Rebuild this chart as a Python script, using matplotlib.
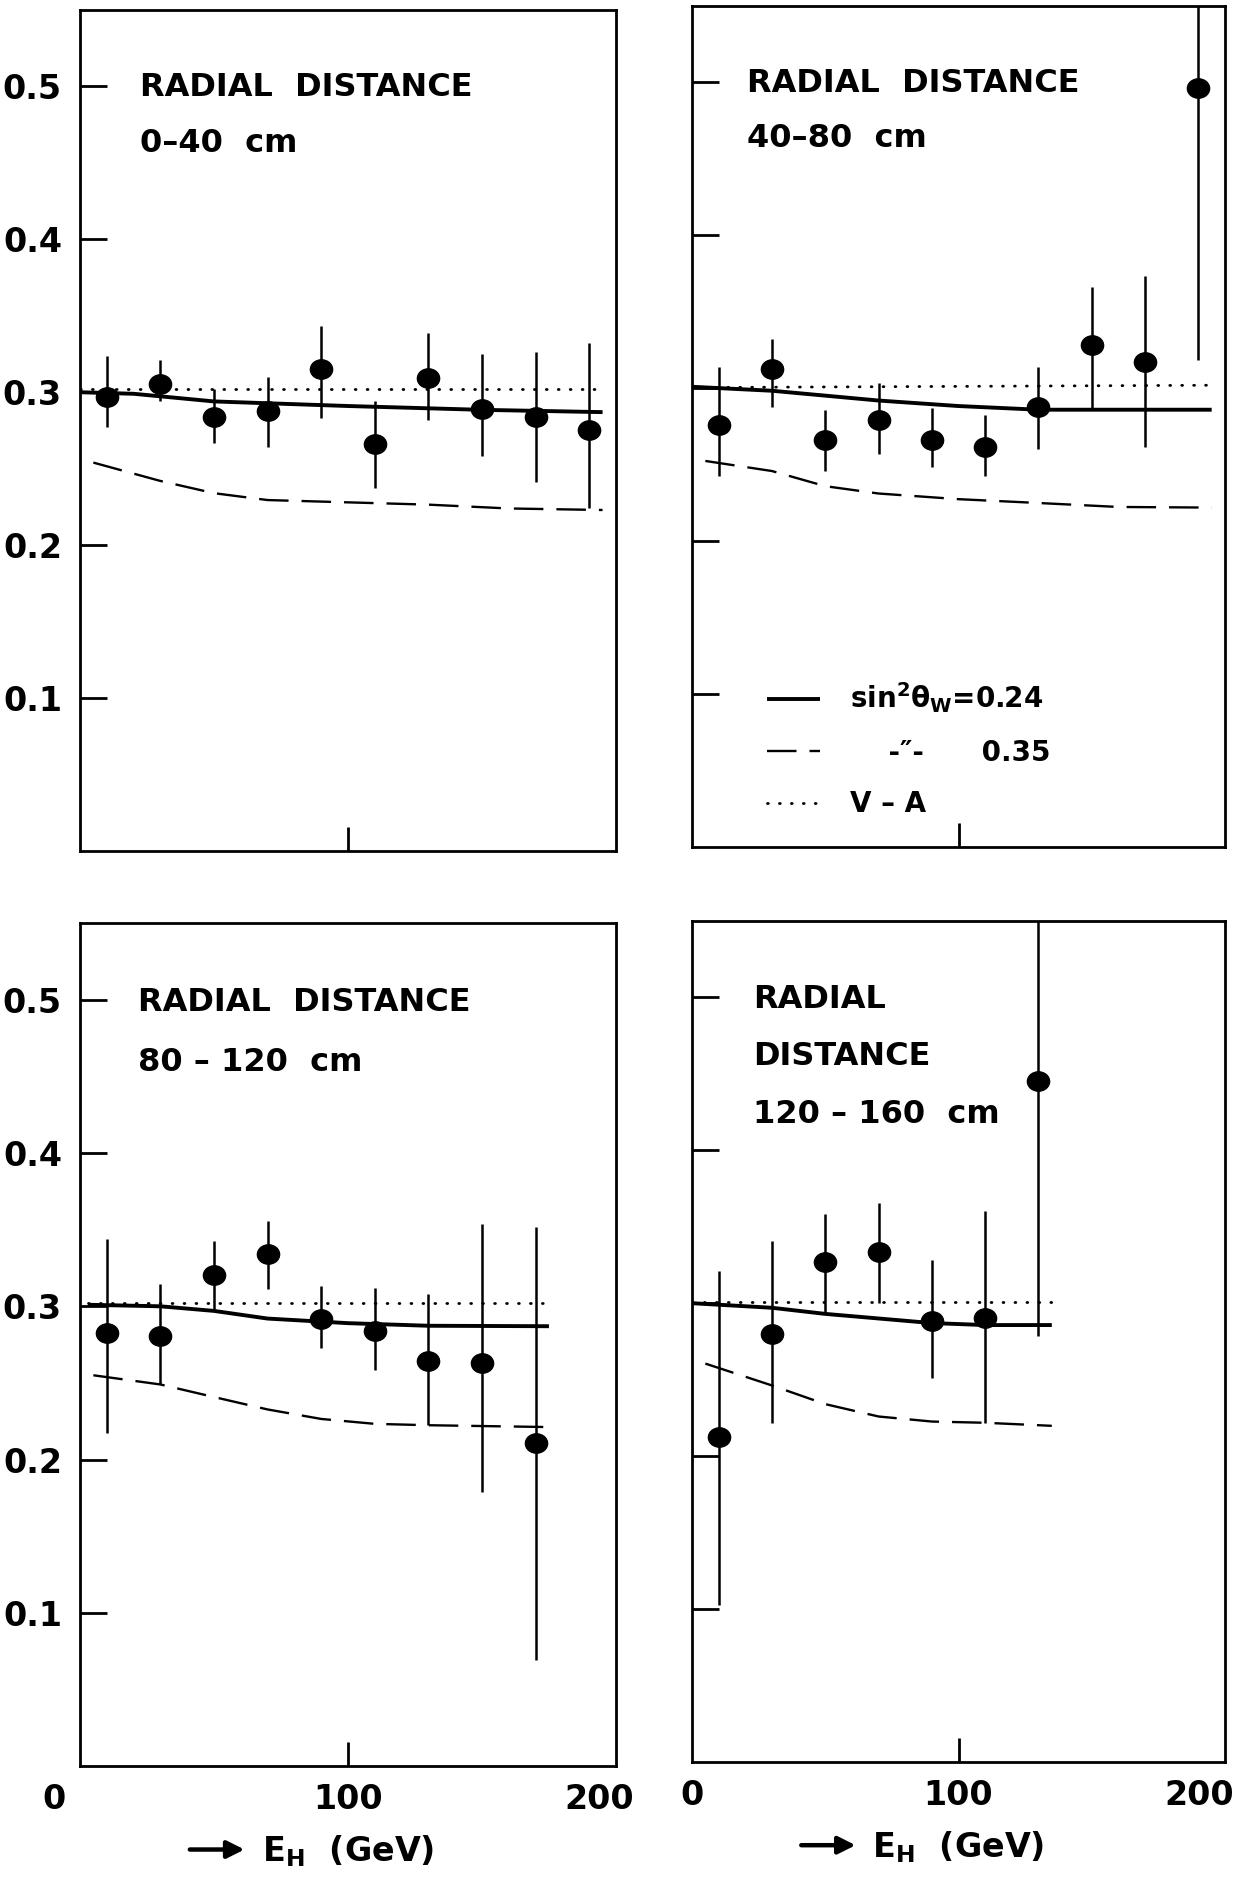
import numpy as np
import matplotlib
matplotlib.use("Agg")
import matplotlib.pyplot as plt
from matplotlib.lines import Line2D
from matplotlib.path import Path
from matplotlib.transforms import offset_copy

matplotlib.rc('font', family='DejaVu Sans', size=24, weight='bold')
matplotlib.rc('mathtext', fontset='dejavusans', default='bf')
matplotlib.rc('axes', linewidth=2.0, labelweight='bold')

# hadron energy bins (GeV)
e_bins = [10, 30, 50, 70, 90, 110, 130, 150, 170, 190]

# ---- radial distance 0-40 cm
r1_y = [0.297, 0.3055, 0.284, 0.288, 0.315, 0.266, 0.309, 0.289, 0.284, 0.275]
r1_lo = [0.277, 0.2945, 0.267, 0.264, 0.283, 0.2375, 0.282, 0.258, 0.241, 0.2245]
r1_hi = [0.324, 0.321, 0.302, 0.310, 0.343, 0.294, 0.339, 0.325, 0.326, 0.332]
r1_sol_x = [0, 20, 50, 100, 150, 195]
r1_sol_y = [0.300, 0.299, 0.294, 0.291, 0.2885, 0.287]
r1_dot_x = [0, 195]
r1_dot_y = [0.302, 0.302]
r1_das_x = [5, 30, 50, 70, 100, 130, 160, 195]
r1_das_y = [0.254, 0.242, 0.234, 0.2295, 0.228, 0.2265, 0.224, 0.223]

# ---- radial distance 40-80 cm
r2_y = [0.2763, 0.3123, 0.266, 0.279, 0.2664, 0.2616, 0.288, 0.3284, 0.3174, 0.4965]
r2_lo = [0.2426, 0.288, 0.2459, 0.2569, 0.2488, 0.2426, 0.2606, 0.2873, 0.2616, 0.3185]
r2_hi = [0.3138, 0.332, 0.286, 0.3035, 0.2873, 0.2826, 0.3138, 0.3662, 0.3736, 0.60]
r2_sol_x = [0, 30, 70, 100, 130, 195]
r2_sol_y = [0.301, 0.2984, 0.292, 0.2884, 0.286, 0.286]
r2_dot_x = [0, 195]
r2_dot_y = [0.3005, 0.302]
r2_das_x = [5, 30, 50, 70, 100, 130, 160, 195]
r2_das_y = [0.2525, 0.2459, 0.236, 0.2312, 0.2275, 0.225, 0.2224, 0.222]

# ---- radial distance 80-120 cm
r3_y = [0.2824, 0.2804, 0.3204, 0.3339, 0.2914, 0.2837, 0.2645, 0.2633, 0.211]
r3_lo = [0.2171, 0.249, 0.2967, 0.3114, 0.2727, 0.2584, 0.2224, 0.1788, 0.0694]
r3_hi = [0.3437, 0.3143, 0.3429, 0.3559, 0.313, 0.3122, 0.3078, 0.3535, 0.3518]
r3_sol_x = [3, 30, 50, 70, 100, 130, 175]
r3_sol_y = [0.301, 0.300, 0.297, 0.292, 0.289, 0.2873, 0.287]
r3_dot_x = [3, 175]
r3_dot_y = [0.302, 0.302]
r3_das_x = [5, 30, 50, 70, 90, 110, 130, 175]
r3_das_y = [0.255, 0.249, 0.2408, 0.2327, 0.2265, 0.2233, 0.2224, 0.2212]

# ---- radial distance 120-160 cm
r4_y = [0.2128, 0.2796, 0.3269, 0.3338, 0.2882, 0.2902, 0.445]
r4_lo = [0.1024, 0.2218, 0.2931, 0.300, 0.2511, 0.2218, 0.2788]
r4_hi = [0.3208, 0.3407, 0.3582, 0.3656, 0.3285, 0.3603, 0.60]
r4_sol_x = [0, 30, 50, 90, 110, 135]
r4_sol_y = [0.300, 0.297, 0.293, 0.287, 0.2857, 0.2857]
r4_dot_x = [0, 135]
r4_dot_y = [0.301, 0.301]
r4_das_x = [5, 30, 50, 70, 90, 110, 135]
r4_das_y = [0.2605, 0.2462, 0.234, 0.2259, 0.2226, 0.2218, 0.2198]

y_ticks = [0.1, 0.2, 0.3, 0.4, 0.5]
y_ticklabels = ['0.1', '0.2', '0.3', '0.4', '0.5']

SOLID = dict(color='black', lw=2.8, solid_capstyle='butt')
DASHED = dict(color='black', lw=1.7, dashes=(12.5, 5.5))
DOTTED = dict(color='black', lw=2.0, dashes=(0.3, 4.0), dash_capstyle='round')

# slightly flattened dot, like the hand-inked points
_c = Path.unit_circle()
DOT = Path(_c.vertices * [1.15, 1.0], _c.codes)


def draw_panel(ax, y, lo, hi, sol, dot, das, title_lines, title_x, edge_dx=None, left=False):
    x = e_bins[:len(y)]
    y = np.array(y)
    yerr = [y - np.array(lo), np.array(hi) - y]

    ax.plot(dot[0], dot[1], **DOTTED)
    ax.plot(das[0], das[1], **DASHED)
    ax.plot(sol[0], sol[1], **SOLID)
    ax.errorbar(x, y, yerr=yerr, fmt='none', ecolor='black',
                elinewidth=1.8, capsize=0, zorder=5)
    ax.plot(x, y, ls='none', marker=DOT, ms=16, color='black', zorder=6)

    ax.set_xlim(0, 200)
    ax.set_ylim(0, 0.55)

    ax.set_yticks(y_ticks)
    if left:
        ax.set_yticklabels(y_ticklabels)
    else:
        ax.set_yticklabels([])
    ax.tick_params(axis='y', direction='in', length=19.5, width=2, pad=13)

    ax.set_xticks([100])
    ax.tick_params(axis='x', direction='in', length=17, width=2, pad=12)
    if edge_dx is not None:
        ax.set_xticklabels(['100'])
        # end labels sit a little off the frame corners
        for xv, lab, dx in zip([0, 200], ['0', '200'], edge_dx):
            tr = offset_copy(ax.get_xaxis_transform(), fig=ax.figure,
                             x=dx, y=-12, units='points')
            ax.text(xv, 0, lab, transform=tr, ha='center', va='top')
        ax.set_xlabel('E$_\\mathregular{H}$  (GeV)', fontsize=24)
        ax.xaxis.set_label_coords(0.50, -0.080)
        ax.annotate('', xy=(0.307, -0.099), xytext=(0.205, -0.099),
                    xycoords='axes fraction', annotation_clip=False,
                    arrowprops=dict(arrowstyle='-|>', lw=3.2, color='black',
                                    mutation_scale=26, shrinkA=0, shrinkB=0))
    else:
        ax.set_xticklabels([])

    for txt, yv in title_lines:
        ax.text(title_x, yv, txt, transform=ax.get_yaxis_transform(),
                fontsize=23, ha='left', va='baseline')


fig = plt.figure(figsize=(12.55, 18.79), dpi=100)

ax1 = fig.add_axes([0.0637, 0.5471, 0.4271, 0.4476])
ax2 = fig.add_axes([0.5514, 0.5492, 0.4247, 0.4476])
ax3 = fig.add_axes([0.0637, 0.0601, 0.4271, 0.4486])
ax4 = fig.add_axes([0.5514, 0.0623, 0.4247, 0.4476])

draw_panel(ax1, r1_y, r1_lo, r1_hi, (r1_sol_x, r1_sol_y), (r1_dot_x, r1_dot_y),
           (r1_das_x, r1_das_y),
           [('RADIAL  DISTANCE', 0.494), ('0\u201340  cm', 0.457)], 0.112, left=True)
draw_panel(ax2, r2_y, r2_lo, r2_hi, (r2_sol_x, r2_sol_y), (r2_dot_x, r2_dot_y),
           (r2_das_x, r2_das_y),
           [('RADIAL  DISTANCE', 0.4935), ('40\u201380  cm', 0.4575)], 0.103)
draw_panel(ax3, r3_y, r3_lo, r3_hi, (r3_sol_x, r3_sol_y), (r3_dot_x, r3_dot_y),
           (r3_das_x, r3_das_y),
           [('RADIAL  DISTANCE', 0.4925), ('80 \u2013 120  cm', 0.4535)], 0.108,
           edge_dx=(-18.7, -12.2), left=True)
draw_panel(ax4, r4_y, r4_lo, r4_hi, (r4_sol_x, r4_sol_y), (r4_dot_x, r4_dot_y),
           (r4_das_x, r4_das_y),
           [('RADIAL', 0.493), ('DISTANCE', 0.456), ('120 \u2013 160  cm', 0.418)], 0.115,
           edge_dx=(0, -18.7))

# key in the 40-80 cm panel
handles = [Line2D([], [], **SOLID), Line2D([], [], **DASHED), Line2D([], [], **DOTTED)]
labels = [r'sin$^2\theta_W$=0.24', '    -\u2033-      0.35', 'V \u2013 A']
ax2.legend(handles, labels, loc='upper left', bbox_to_anchor=(0.141, 0.198),
           frameon=False, fontsize=20, handlelength=1.9, handletextpad=1.1,
           labelspacing=0.85, borderpad=0, borderaxespad=0)

plt.savefig('out.png', dpi=100)
plt.close()
